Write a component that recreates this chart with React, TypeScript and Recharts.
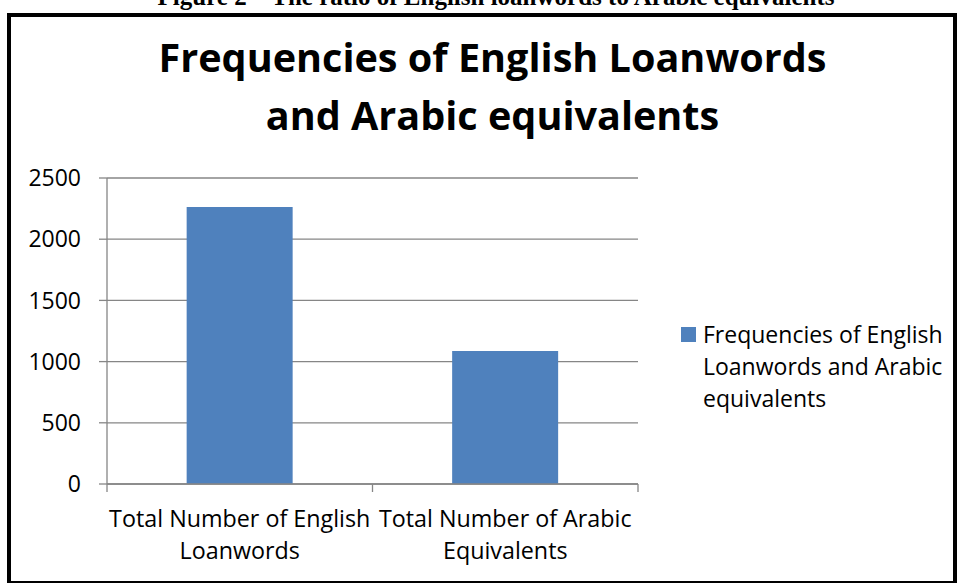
import React from "react";
import { BarChart, Bar, XAxis, YAxis, CartesianGrid } from "recharts";

const caption = "Figure 2 – The ratio of English loanwords to Arabic equivalents";
const titleLines = ["Frequencies of English Loanwords", "and Arabic equivalents"];
const seriesName = "Frequencies of English Loanwords and Arabic equivalents";
const legendLines = ["Frequencies of English", "Loanwords and Arabic", "equivalents"];
const categories = ["Total Number of English\nLoanwords", "Total Number of Arabic\nEquivalents"];
const values = [2263, 1087];
const yTicks = [0, 500, 1000, 1500, 2000, 2500];

const BAR_COLOR = "#4F81BD";
const GRID = "#868686";
const FONT = "'Open Sans', Lato, sans-serif";

const data = categories.map((c, i) => ({ category: c, value: values[i] }));

const CategoryTick = (props: any) => {
  const { x, y, payload, width, visibleTicksCount, index } = props;
  const lines = String(payload.value).split("\n");
  const count = visibleTicksCount || categories.length;
  const half = width / count / 2;
  return (
    <g>
      <line x1={x - half} x2={x - half} y1={y} y2={y + 8} stroke={GRID} strokeWidth={1.3} />
      {index === count - 1 && (
        <line x1={x + half} x2={x + half} y1={y} y2={y + 8} stroke={GRID} strokeWidth={1.3} />
      )}
      <text x={x} y={y} textAnchor="middle" fontFamily={FONT} fontSize={23.3} fill="#000">
        {lines.map((l, i) => (
          <tspan key={i} x={x} dy={i === 0 ? 43 : 32}>
            {l}
          </tspan>
        ))}
      </text>
    </g>
  );
};

export default function App() {
  return (
    <div
      style={{
        position: "absolute",
        left: 0,
        top: 0,
        width: 960,
        height: 583,
        overflow: "hidden",
        background: "#fff",
      }}
    >
      <div
        style={{
          position: "absolute",
          left: 0,
          top: -16,
          width: 992,
          textAlign: "center",
          fontFamily: "'Liberation Serif', 'Times New Roman', serif",
          fontWeight: "bold",
          fontSize: 25,
          lineHeight: "25px",
          whiteSpace: "nowrap",
        }}
      >
        {caption}
      </div>
      <div
        style={{
          position: "absolute",
          left: 7,
          top: 13,
          width: 950,
          height: 572,
          border: "4px solid #000",
          boxSizing: "border-box",
        }}
      />
      <div
        style={{
          position: "absolute",
          left: 0,
          top: 28,
          width: 985,
          textAlign: "center",
          fontFamily: FONT,
          fontWeight: "bold",
          fontSize: 39.6,
          lineHeight: "58px",
          color: "#000",
          whiteSpace: "nowrap",
        }}
      >
        {titleLines.map((t, i) => (
          <div key={i}>{t}</div>
        ))}
      </div>
      <div style={{ position: "absolute", left: 0, top: 0 }}>
        <BarChart
          width={960}
          height={583}
          data={data}
          margin={{ top: 178, right: 322, bottom: 0, left: 0 }}
          barCategoryGap="30%"
        >
          <CartesianGrid vertical={false} stroke={GRID} strokeWidth={1.3} />
          <XAxis
            dataKey="category"
            height={99}
            tickLine={false}
            tickSize={0}
            tickMargin={0}
            axisLine={{ stroke: GRID, strokeWidth: 1.3 }}
            tick={<CategoryTick />}
            interval={0}
          />
          <YAxis
            domain={[0, 2500]}
            ticks={yTicks}
            width={107}
            tickSize={8}
            tickMargin={18}
            axisLine={{ stroke: GRID, strokeWidth: 1.3 }}
            tickLine={{ stroke: GRID, strokeWidth: 1.3 }}
            tick={{ fontFamily: FONT, fontSize: 23, fill: "#000" }}
          />
          <Bar dataKey="value" name={seriesName} fill={BAR_COLOR} isAnimationActive={false} />
        </BarChart>
      </div>
      <div
        style={{
          position: "absolute",
          left: 681,
          top: 327,
          width: 15,
          height: 15,
          background: BAR_COLOR,
        }}
      />
      <div
        style={{
          position: "absolute",
          left: 703,
          top: 317.5,
          fontFamily: FONT,
          fontSize: 23,
          lineHeight: "32px",
          color: "#000",
          whiteSpace: "nowrap",
        }}
      >
        {legendLines.map((t, i) => (
          <div key={i}>{t}</div>
        ))}
      </div>
    </div>
  );
}
